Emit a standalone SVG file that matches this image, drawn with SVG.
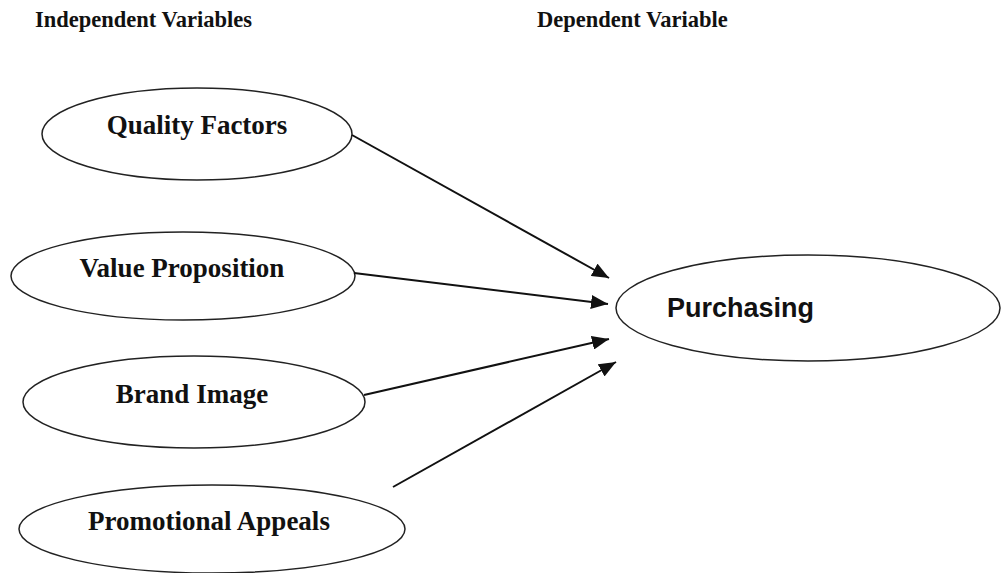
<svg xmlns="http://www.w3.org/2000/svg" width="1002" height="573" viewBox="0 0 1002 573">
<style>
.node ellipse{fill:#fff;stroke:#222;stroke-width:1.5}
.lbl{font-family:"Liberation Serif","Times New Roman",serif;font-weight:bold;font-size:27px;fill:#111;text-anchor:middle}
.hdr{font-family:"Liberation Serif","Times New Roman",serif;font-weight:bold;font-size:22.5px;fill:#111}
.sans{font-family:"Liberation Sans",Arial,sans-serif;font-weight:bold;font-size:27px;fill:#111}
.conn line{stroke:#111;stroke-width:2;marker-end:url(#ah)}
</style>
<defs>
<marker id="ah" markerUnits="userSpaceOnUse" markerWidth="18" markerHeight="14" refX="17" refY="7" orient="auto">
<path d="M0,0 L17,7 L0,14 Z" fill="#111"/>
</marker>
</defs>
<rect width="1002" height="573" fill="#fff"/>
<text class="hdr" x="35" y="27">Independent Variables</text>
<text class="hdr" x="537" y="27">Dependent Variable</text>
<g class="node" id="quality">
<ellipse cx="197" cy="134" rx="155" ry="46"/>
<text class="lbl" x="197" y="134">Quality Factors</text>
</g>
<g class="node" id="value">
<ellipse cx="183" cy="276" rx="172" ry="44"/>
<text class="lbl" x="182" y="277">Value Proposition</text>
</g>
<g class="node" id="brand">
<ellipse cx="194" cy="402" rx="171" ry="46"/>
<text class="lbl" x="192" y="403">Brand Image</text>
</g>
<g class="node" id="promo">
<ellipse cx="212" cy="529" rx="193" ry="44"/>
<text class="lbl" x="209" y="530">Promotional Appeals</text>
</g>
<g class="node" id="purchasing">
<ellipse cx="808" cy="308" rx="192" ry="53"/>
<text class="sans" x="667" y="317">Purchasing</text>
</g>
<g class="conn" id="connectors">
<line x1="352" y1="135" x2="609" y2="278"/>
<line x1="354" y1="273" x2="608" y2="304"/>
<line x1="364" y1="395" x2="609" y2="339"/>
<line x1="393" y1="487" x2="616" y2="362"/>
</g>
</svg>
